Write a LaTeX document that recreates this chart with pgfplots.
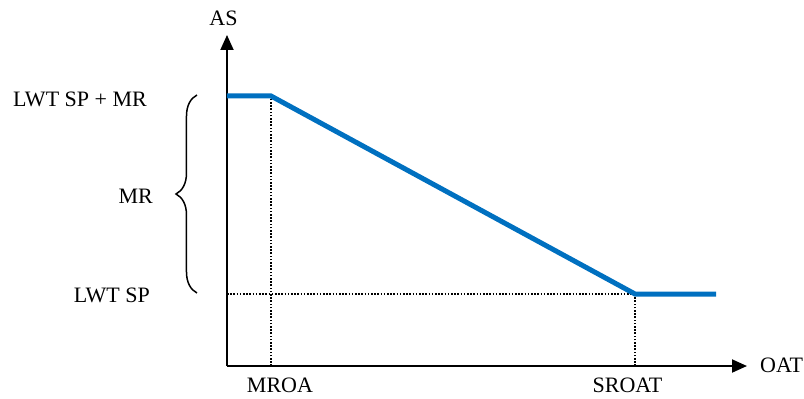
\documentclass[border=0pt]{standalone}
\usepackage{fontspec}
\setmainfont{Liberation Serif}
\usepackage{pgfplots}
\pgfplotsset{compat=1.18}
\usetikzlibrary{arrows.meta,decorations.pathreplacing}
\definecolor{lineblue}{HTML}{0070C0}
\tikzset{lbl/.style={font=\fontsize{22bp}{26bp}\selectfont, inner sep=0pt},
  dots/.style={black, line width=1.7bp, dash pattern=on 1.6bp off 1.6bp}}
\begin{document}
\begin{tikzpicture}[x=1bp,y=1bp]
\path[use as bounding box] (-227,-32) rectangle (577,366);
\begin{axis}[
  at={(0,0)}, anchor=origin,
  scale only axis, width=520bp, height=331bp,
  xmin=0, xmax=520, ymin=0, ymax=331,
  axis lines=left,
  axis line style={line width=1.9bp, -{Triangle[length=15bp,width=13bp]}},
  xtick=\empty, ytick=\empty,
  clip=false,
]
\addplot[dots] coordinates {(44,0) (44,270)};
\addplot[dots] coordinates {(408,0) (408,72)};
\addplot[dots] coordinates {(0,72) (408,72)};
\addplot[lineblue, line width=5bp] coordinates {(0,270) (44,270) (408,72) (489,72)};
\draw[line width=1.5bp, decorate, decoration={brace, amplitude=21bp}] (axis cs:-30,73) -- (axis cs:-30,271);
\node[lbl, anchor=base] at (axis cs:-3.5,340) {AS};
\node[lbl, anchor=base east] at (axis cs:-80,259) {LWT SP + MR};
\node[lbl, anchor=base east] at (axis cs:-74,163) {MR};
\node[lbl, anchor=base east] at (axis cs:-77,64) {LWT SP};
\node[lbl, anchor=base] at (axis cs:53,-26) {MROA};
\node[lbl, anchor=base] at (axis cs:400.5,-26) {SROAT};
\node[lbl, anchor=base west] at (axis cs:533,-6) {OAT};
\end{axis}
\end{tikzpicture}
\end{document}
